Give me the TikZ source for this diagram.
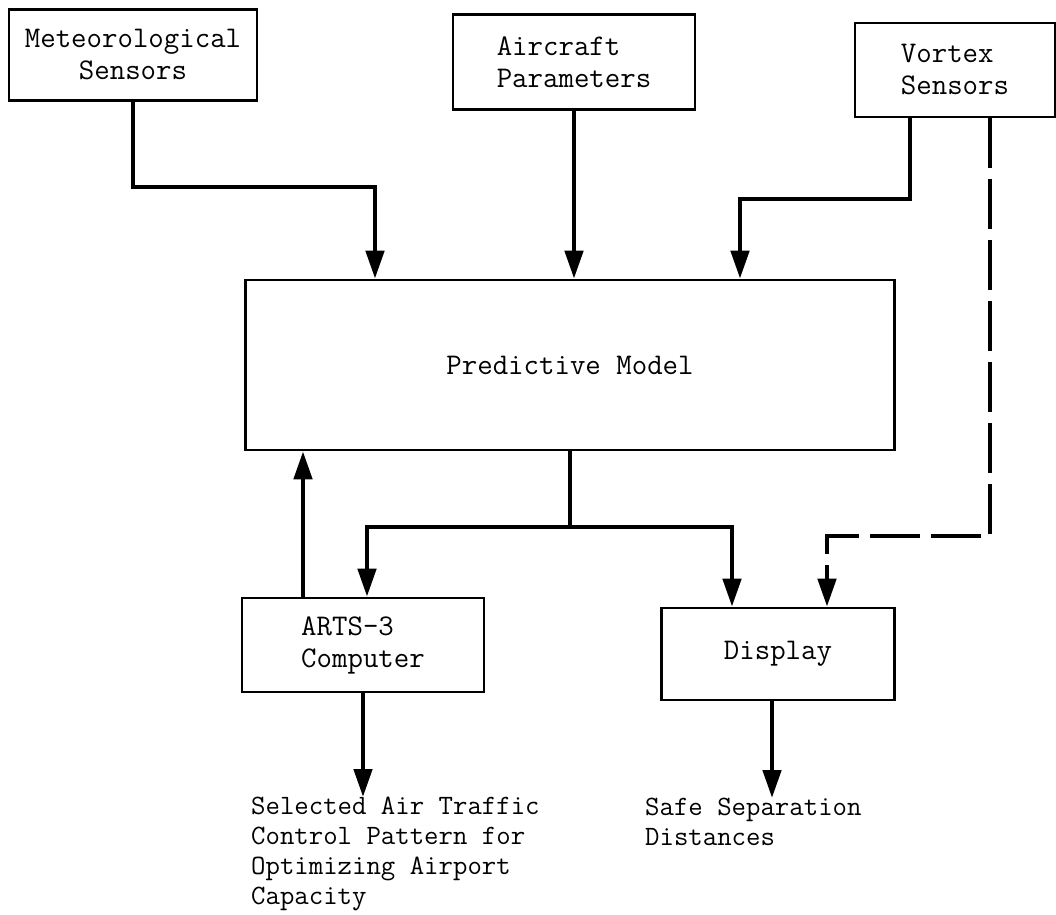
\documentclass[tikz,border=0pt]{standalone}
\usetikzlibrary{arrows.meta}
\begin{document}
\begin{tikzpicture}[x=1pt,y=-1pt,
  box/.style={draw=black,line width=2.6pt,rectangle,inner sep=0pt,align=left,
    font=\ttfamily\fontsize{30}{32}\selectfont},
  txt/.style={inner sep=0pt,align=left,font=\ttfamily\fontsize{28}{30}\selectfont},
  conn/.style={line width=4.6pt,line join=miter},
  arr/.style={conn,-{Triangle[length=28pt,width=18pt]}},
  dsh/.style={arr,dash pattern=on 50pt off 11pt}]
\useasboundingbox (0,0) rectangle (1056,914);
\fill[white] (0,0) rectangle (1056,914);

\node[box,minimum width=248pt,minimum height=91pt,align=center] (met) at (133,55) {Meteorological\\Sensors};
\node[box,minimum width=242pt,minimum height=95pt] (ac) at (574,62) {Aircraft\\Parameters};
\node[box,minimum width=200pt,minimum height=94pt] (vs) at (955,70) {Vortex\\Sensors};
\node[box,minimum width=649pt,minimum height=170pt] (pm) at (570,365) {Predictive Model};
\node[box,minimum width=242pt,minimum height=94pt] (arts) at (363,645) {ARTS-3\\Computer};
\node[box,minimum width=233pt,minimum height=92pt] (disp) at (778,654) {Display};

\node[txt,anchor=north west] (sel) at (251,797) {Selected Air Traffic\\Control Pattern for\\Optimizing Airport\\Capacity};
\node[txt,anchor=north west] (safe) at (645,798) {Safe Separation\\Distances};

\coordinate (m1) at (375,187);
\draw[arr] (met.south) |- (m1) -- (m1 |- pm.north);
\draw[arr] (ac.south) -- (ac.south |- pm.north);
\coordinate (v1) at (740,199);
\draw[arr] ([xshift=-45pt]vs.south) |- (v1) -- (v1 |- pm.north);
\coordinate (d1) at (827,536);
\draw[dsh] ([xshift=35pt]vs.south) |- (d1) -- (d1 |- disp.north);

\coordinate (p1) at (367,527);
\coordinate (p2) at (732,527);
\draw[conn] (pm.south) -- (pm.south |- p1);
\draw[arr] (pm.south |- p1) -- (p1) -- (p1 |- arts.north);
\draw[arr] (pm.south |- p2) -- (p2) -- (p2 |- disp.north);
\draw[arr] ([xshift=-60pt]arts.north) -- ([xshift=-60pt]arts.north |- pm.south);
\draw[arr] (arts.south) -- (arts.south |- sel.north);
\draw[arr] ([xshift=-6pt]disp.south) -- ([xshift=-6pt]disp.south |- safe.north);
\end{tikzpicture}
\end{document}
